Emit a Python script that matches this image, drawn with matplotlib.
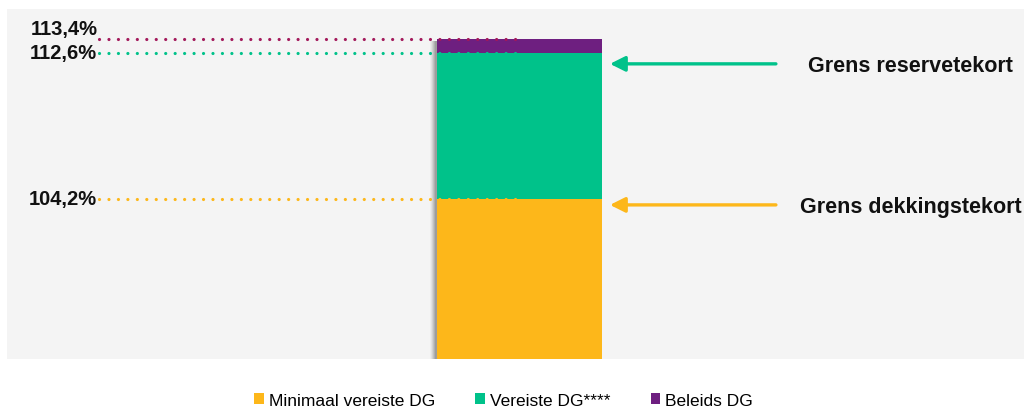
import matplotlib
matplotlib.use("Agg")
import matplotlib.pyplot as plt

plt.rcParams['font.family'] = ['Liberation Sans', 'DejaVu Sans']

# stacked segments of the single bar (cumulative level in %)
segments = ["Minimaal vereiste DG", "Vereiste DG****", "Beleids DG"]
levels = [104.2, 112.6, 113.4]
colors = ["#FDB71A", "#00C28A", "#6E1F80"]
dot_colors = ["#FDB71A", "#00C28A", "#A3195B"]
level_labels = ["104,2%", "112,6%", "113,4%"]

# arrow annotations: text, arrow level, colour
arrow_texts = ["Grens dekkingstekort", "Grens reservetekort"]
arrow_levels = [103.85, 111.95]
arrow_colors = ["#FDB71A", "#00C28A"]

base = 95.0

fig = plt.figure(figsize=(10.24, 4.10), dpi=100)
ax = fig.add_axes([7 / 1024, 50 / 410, 1017 / 1024, 350 / 410])
ax.set_facecolor("#F4F4F4")
ax.set_xlim(-3.12, 3.07)
ax.set_ylim(base, 115.1)
for s in ax.spines.values():
    s.set_visible(False)
ax.set_xticks([])
ax.set_yticks([])

bottom = base
handles = []
for name, lvl, c in zip(segments, levels, colors):
    b = ax.bar(0, lvl - bottom, bottom=bottom, width=1.0, color=c, label=name,
               linewidth=0, zorder=2)
    handles.append(b)
    bottom = lvl

# soft shadow along the left edge of the bar
for i, a in enumerate([0.05, 0.08, 0.11, 0.14, 0.18, 0.22]):
    dx = 0.045 - i * 0.006
    ax.bar(-dx, levels[-1] - base - 0.15, bottom=base, width=1.0, color="#606060",
           alpha=a, linewidth=0, zorder=1)

# dotted reference lines with their value labels
label_offsets = [0, 0, 7]
for lvl, c, txt, off in zip(levels, dot_colors, level_labels, label_offsets):
    ax.plot([-2.56, -0.01], [lvl, lvl], color=c, lw=2.3, linestyle=(0, (0.01, 2.95)),
            dash_capstyle="round", zorder=3)
    ax.annotate(txt, xy=(-2.57, lvl), xytext=(0, off), textcoords="offset points",
                ha="right", va="center", fontsize=14.5, fontweight="bold", color="#111111")

# arrows pointing to the bar
for txt, lvl, c in zip(arrow_texts, arrow_levels, arrow_colors):
    ax.annotate("", xy=(0.55, lvl), xytext=(1.56, lvl),
                arrowprops=dict(arrowstyle="-|>,head_length=0.9,head_width=0.45",
                                color=c, lw=2.4, shrinkA=0, shrinkB=0))
    ax.text(2.38, lvl - 0.1, txt, ha="center", va="center", fontsize=15.5,
            fontweight="bold", color="#111111")

fig.legend(handles=handles, labels=segments, loc="lower center",
           bbox_to_anchor=(0.492, -0.035), ncol=3, frameon=False, fontsize=12.5,
           handlelength=0.55, handleheight=0.55, handletextpad=0.3, columnspacing=2.3)

fig.savefig("out.png", dpi=100)
